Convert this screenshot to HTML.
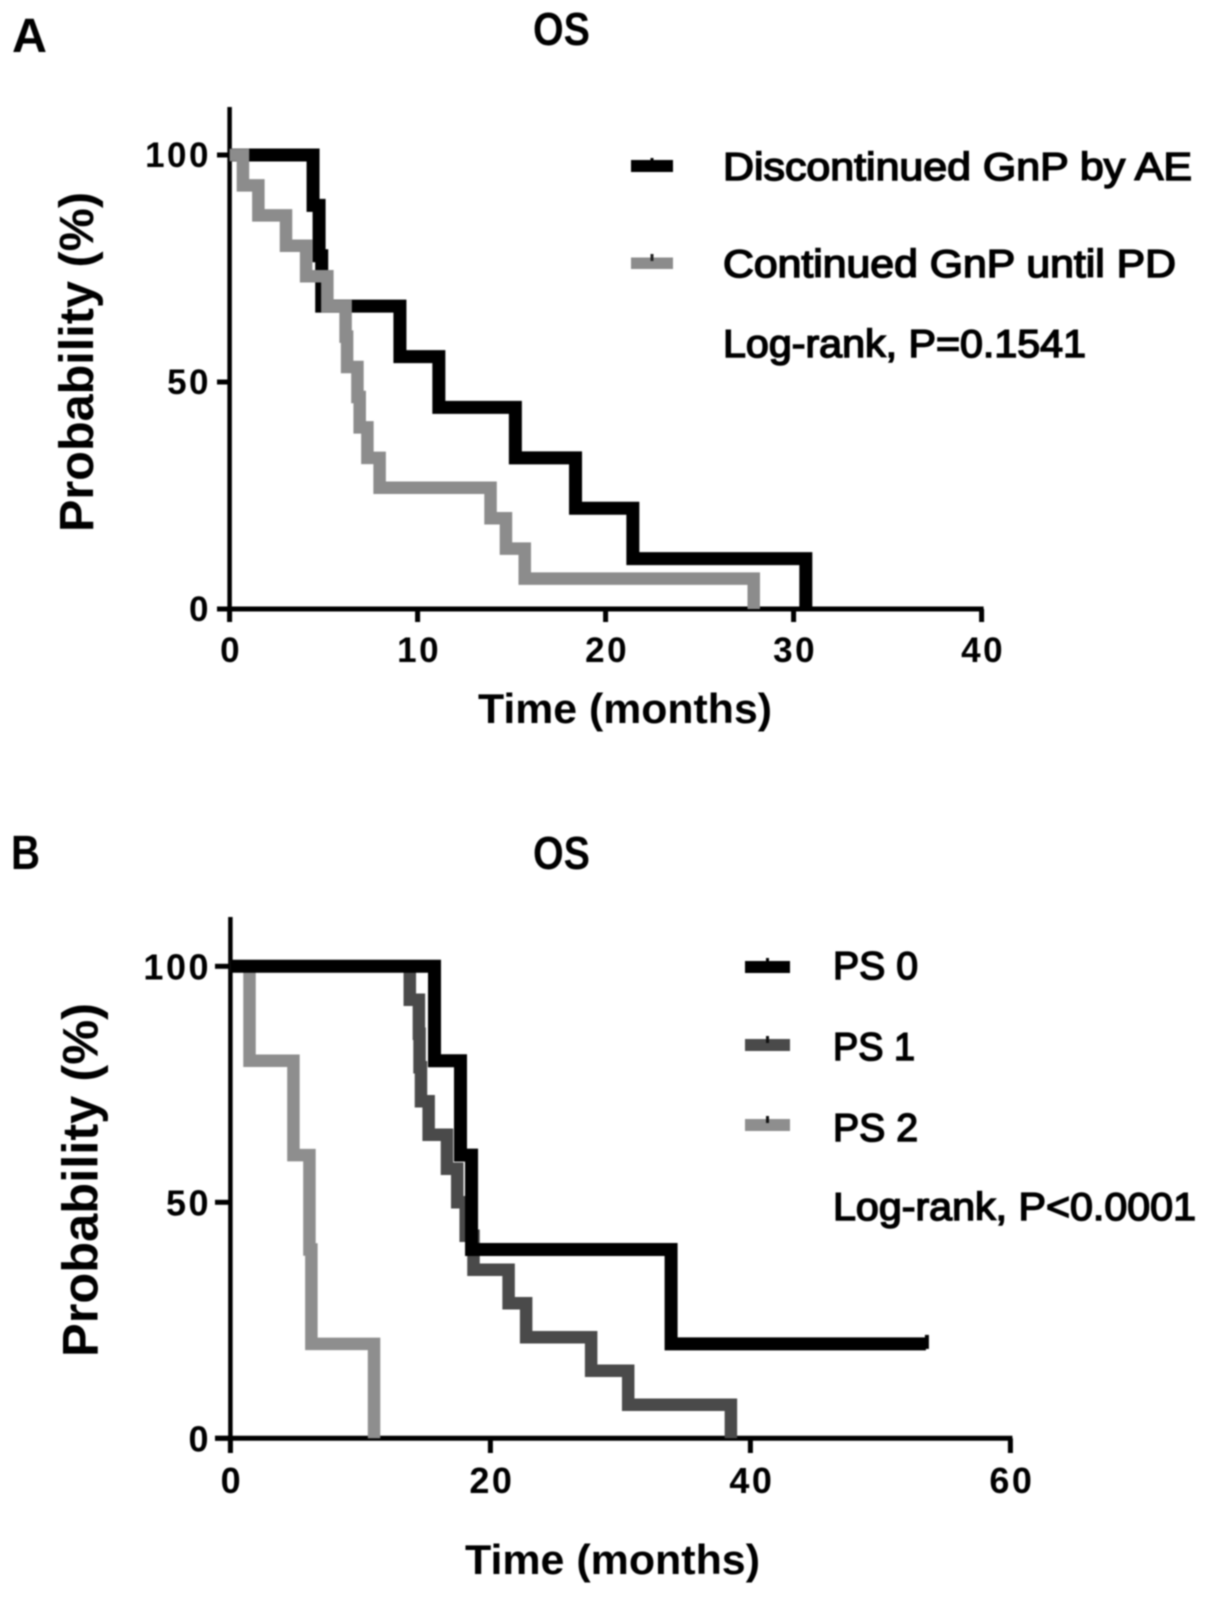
<!DOCTYPE html>
<html>
<head>
<meta charset="utf-8">
<title>Overall survival curves</title>
<style>
html,body{margin:0;padding:0;background:#fff;width:1205px;height:1598px;overflow:hidden}
svg{display:block;filter:blur(0.7px)}
text{font-family:"Liberation Sans",Arial,sans-serif;fill:#000}
.b{font-weight:bold}
.leg{stroke:#000;stroke-width:1.5px}
</style>
</head>
<body>
<svg id="chart" xmlns="http://www.w3.org/2000/svg" width="1205" height="1598" viewBox="0 0 1205 1598">
  <g id="panelA">
    <text class="b" x="12" y="52" font-size="48" textLength="35" lengthAdjust="spacingAndGlyphs">A</text>
    <text class="b" x="533" y="45" font-size="46" textLength="57" lengthAdjust="spacingAndGlyphs">OS</text>
    <text class="b" transform="translate(93,532) rotate(-90)" x="0" y="0" font-size="48" textLength="340" lengthAdjust="spacingAndGlyphs">Probability (%)</text>
    <text class="b" x="478" y="723" font-size="42" textLength="294" lengthAdjust="spacingAndGlyphs">Time (months)</text>
    <rect x="631" y="160" width="42" height="12" fill="#000"/>
    <rect x="650.5" y="158" width="3" height="5" fill="#000"/>
    <text class="leg" x="723" y="180" font-size="38.5" textLength="469" lengthAdjust="spacingAndGlyphs">Discontinued GnP by AE</text>
    <rect x="631" y="257.5" width="42" height="11.5" fill="#8c8c8c"/>
    <rect x="650.5" y="254" width="3" height="7" fill="#222"/>
    <text class="leg" x="723" y="277" font-size="38.5" textLength="453" lengthAdjust="spacingAndGlyphs">Continued GnP until PD</text>
    <text class="leg" x="723" y="357" font-size="38.5" textLength="363" lengthAdjust="spacingAndGlyphs">Log-rank, P=0.1541</text>
  </g>
  <g id="panelB">
    <text class="b" x="11" y="869" font-size="48" textLength="29" lengthAdjust="spacingAndGlyphs">B</text>
    <text class="b" x="533" y="869" font-size="46" textLength="57" lengthAdjust="spacingAndGlyphs">OS</text>
    <text class="b" transform="translate(97.5,1357) rotate(-90)" x="0" y="0" font-size="50" textLength="354" lengthAdjust="spacingAndGlyphs">Probability (%)</text>
    <text class="b" x="465" y="1574" font-size="42" textLength="295" lengthAdjust="spacingAndGlyphs">Time (months)</text>
    <rect x="745" y="961" width="45" height="12" fill="#000"/>
    <rect x="766" y="958" width="3" height="5" fill="#000"/>
    <text class="leg" x="833" y="979" font-size="38.5" textLength="85" lengthAdjust="spacingAndGlyphs">PS 0</text>
    <rect x="745" y="1039" width="45" height="12" fill="#4a4a4a"/>
    <rect x="766" y="1036" width="3" height="7" fill="#111"/>
    <text class="leg" x="833" y="1060" font-size="38.5" textLength="82" lengthAdjust="spacingAndGlyphs">PS 1</text>
    <rect x="745" y="1119" width="45" height="12" fill="#8e8e8e"/>
    <rect x="766" y="1116" width="3" height="7" fill="#111"/>
    <text class="leg" x="833" y="1141" font-size="38.5" textLength="85" lengthAdjust="spacingAndGlyphs">PS 2</text>
    <text class="leg" x="833" y="1220" font-size="38.5" textLength="363" lengthAdjust="spacingAndGlyphs">Log-rank, P&lt;0.0001</text>
  </g>
</svg>
<script>
var yTicks = [0, 50, 100];
var xTicksA = [0, 10, 20, 30, 40];
var xTicksB = [0, 20, 40, 60];

var discontinuedTimes = [4.44, 4.76, 4.9, 9.06, 11.13, 15.2, 18.4, 21.45, 30.65];
var discontinuedSurvival = [88.9, 77.8, 66.7, 55.6, 44.4, 33.3, 22.2, 11.1, 0];

var continuedTimes = [0.71, 1.53, 3.0, 4.07, 5.2, 6.17, 6.25, 6.8, 6.92, 7.33, 7.98, 13.88, 14.7, 15.7, 27.88];
var continuedSurvival = [93.3, 86.7, 80, 73.3, 66.7, 60, 53.3, 46.7, 40, 33.3, 26.7, 20, 13.3, 6.7, 0];

var ps0Times = [15.7, 17.7, 18.55, 33.9, 53.5];
var ps0Survival = [80, 60, 40, 20, 20];

var ps1Times = [13.8, 14.5, 14.55, 14.66, 15.25, 16.66, 17.45, 18.1, 18.7, 21.4, 22.75, 27.75, 30.6, 38.5];
var ps1Survival = [92.9, 85.7, 78.6, 71.4, 64.3, 57.1, 50, 42.9, 35.7, 28.6, 21.4, 14.3, 7.1, 0];

var ps2Times = [1.47, 4.85, 6.08, 6.23, 11.05];
var ps2Survival = [80, 60, 40, 20, 0];

var ps0CensorTimes = [53.5];
var ps0CensorSurvival = [20];

var SVG_NS = 'http://www.w3.org/2000/svg';

function makeAxes(x0, pxPerUnit, y0, pxPerPct) {
  return {
    x: function (t) { return x0 + t * pxPerUnit; },
    y: function (s) { return y0 - s * pxPerPct; }
  };
}

function stepPath(axes, times, survival) {
  var d = 'M' + axes.x(0) + ' ' + axes.y(100);
  var prev = 100;
  for (var i = 0; i < times.length; i++) {
    d += ' L' + axes.x(times[i]) + ' ' + axes.y(prev);
    d += ' L' + axes.x(times[i]) + ' ' + axes.y(survival[i]);
    prev = survival[i];
  }
  return d;
}

function addLine(parent, x1, y1, x2, y2, width) {
  var el = document.createElementNS(SVG_NS, 'line');
  el.setAttribute('x1', x1);
  el.setAttribute('y1', y1);
  el.setAttribute('x2', x2);
  el.setAttribute('y2', y2);
  el.setAttribute('stroke', '#000');
  el.setAttribute('stroke-width', width);
  parent.appendChild(el);
  return el;
}

function addLabel(parent, x, y, str, anchor, size) {
  var el = document.createElementNS(SVG_NS, 'text');
  el.setAttribute('x', x);
  el.setAttribute('y', y);
  el.setAttribute('text-anchor', anchor);
  el.setAttribute('font-size', size);
  el.setAttribute('font-weight', 'bold');
  el.setAttribute('letter-spacing', '2.5');
  el.textContent = str;
  parent.appendChild(el);
  return el;
}

function addCurve(parent, axes, times, survival, color, width) {
  var el = document.createElementNS(SVG_NS, 'path');
  el.setAttribute('d', stepPath(axes, times, survival));
  el.setAttribute('fill', 'none');
  el.setAttribute('stroke', color);
  el.setAttribute('stroke-width', width);
  el.setAttribute('stroke-linejoin', 'miter');
  el.setAttribute('stroke-miterlimit', 4);
  parent.appendChild(el);
  return el;
}

function drawFrame(parent, axes, xTicks, cfg) {
  var yLine = addLine(parent, axes.x(0), cfg.axisTop, axes.x(0), cfg.tickBottom, 4.5);
  
  
  var xLine = addLine(parent, cfg.tickLeft, axes.y(0), axes.x(xTicks[xTicks.length - 1]) + 2, axes.y(0), 5);
  
  
  yTicks.forEach(function (v) {
    var t = addLine(parent, cfg.tickLeft, axes.y(v), axes.x(0), axes.y(v), 5);
    
    
    var l = addLabel(parent, cfg.yLabelRight, axes.y(v) + cfg.yLabelShift, String(v), 'end', cfg.fontSize);
    
    
  });
  xTicks.forEach(function (v) {
    var t = addLine(parent, axes.x(v), axes.y(0), axes.x(v), cfg.tickBottom, 5);
    
    
    var l = addLabel(parent, axes.x(v) + 1.5, cfg.xLabelBase, String(v), 'middle', cfg.fontSize);
    
    
  });
}

var panelA = document.getElementById('panelA');
var axesA = makeAxes(229.6, 18.8, 609, 4.54);
drawFrame(panelA, axesA, xTicksA, {
  axisTop: 107, tickBottom: 622, tickLeft: 217,
  yLabelRight: 211, yLabelShift: 12, xLabelBase: 662, fontSize: 35
});
var curveDiscontinued = addCurve(panelA, axesA, discontinuedTimes, discontinuedSurvival, '#000', 13);


var curveContinued = addCurve(panelA, axesA, continuedTimes, continuedSurvival, '#8c8c8c', 12.5);



var panelB = document.getElementById('panelB');
var axesB = makeAxes(230.4, 13, 1438.3, 4.72);
drawFrame(panelB, axesB, xTicksB, {
  axisTop: 917, tickBottom: 1453, tickLeft: 215,
  yLabelRight: 211, yLabelShift: 13, xLabelBase: 1493, fontSize: 36
});
var curvePs2 = addCurve(panelB, axesB, ps2Times, ps2Survival, '#8e8e8e', 12.5);


var curvePs1 = addCurve(panelB, axesB, ps1Times, ps1Survival, '#4a4a4a', 12.5);


var curvePs0 = addCurve(panelB, axesB, ps0Times, ps0Survival, '#000', 13);


ps0CensorTimes.forEach(function (t, i) {
  var c = addLine(panelB, axesB.x(t) + 1, axesB.y(ps0CensorSurvival[i]) + 5, axesB.x(t) + 1, axesB.y(ps0CensorSurvival[i]) - 9, 4);
  
  
});
</script>
</body>
</html>
